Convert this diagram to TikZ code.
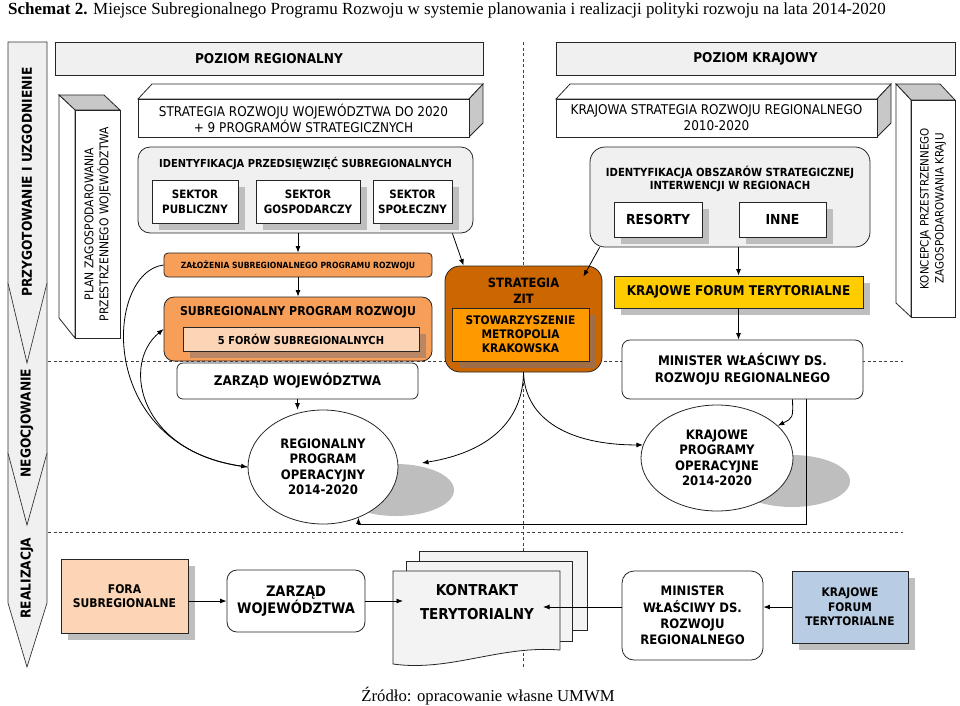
\documentclass[tikz,border=0pt]{standalone}
\usepackage{fontspec}
\setmainfont{DejaVu Sans Condensed}
\newfontfamily\titlefont{Liberation Serif}
\usepackage{tikz}
\usetikzlibrary{arrows.meta,positioning,calc,shapes.geometric,shadows}
\newcommand{\fsz}[2]{\fontsize{#1}{#2}\selectfont}
\definecolor{barfill}{RGB}{240,240,240}
\definecolor{panelgray}{RGB}{240,240,240}
\definecolor{docgray}{RGB}{243,243,243}
\definecolor{sidegray}{RGB}{200,200,200}
\definecolor{shadowgray}{RGB}{190,190,190}
\definecolor{lightorange}{RGB}{247,158,88}
\definecolor{peach}{RGB}{251,213,181}
\definecolor{subshadow}{RGB}{185,135,100}
\definecolor{zitbrown}{RGB}{204,102,0}
\definecolor{zitorange}{RGB}{255,153,0}
\definecolor{zitshadow}{RGB}{160,110,70}
\definecolor{forumyellow}{RGB}{255,204,0}
\definecolor{forumblue}{RGB}{184,204,228}

\begin{document}
\begin{tikzpicture}[x=1pt,y=-1pt,
    box/.style={draw=black!85, line width=0.8pt, inner sep=0pt, align=center},
    boxshadow/.style={drop shadow={shadow xshift=7pt, shadow yshift=-7pt, fill=#1, opacity=1}},
    boxshadow/.default=shadowgray,
    face/.style={draw=black!85, line width=0.8pt},
    arr/.style={-{Latex[length=6.5pt,width=5pt]}, line width=0.8pt},
    divider/.style={black!75, line width=0.6pt, dash pattern=on 3pt off 2.5pt}]
    \useasboundingbox (0,0) rectangle (960,705);

    % Title
    \node[anchor=base west, inner sep=0pt, font=\titlefont\fsz{17}{19}] (title) at (8,14)
        {\textbf{Schemat 2.} Miejsce Subregionalnego Programu Rozwoju w systemie planowania i realizacji polityki rozwoju na lata 2014-2020};

    % Stages bar on the left
    \filldraw[fill=barfill, draw=black!80, line width=0.7pt] (8,453) -- (47,453) -- (47,603) -- (27,667) -- (8,603) -- cycle;
    \filldraw[fill=barfill, draw=black!80, line width=0.7pt] (8,283) -- (47,283) -- (47,453) -- (27,525) -- (8,453) -- cycle;
    \filldraw[fill=barfill, draw=black!80, line width=0.7pt] (8,42) -- (47,42) -- (47,283) -- (27,363) -- (8,283) -- cycle;
    \node[rotate=90, font=\bfseries\fsz{13.6}{15}] (stageA) at (27,182) {PRZYGOTOWANIE I UZGODNIENIE};
    \node[rotate=90, font=\bfseries\fsz{13.6}{15}] (stageB) at (27,423) {NEGOCJOWANIE};
    \node[rotate=90, font=\bfseries\fsz{13.6}{15}] (stageC) at (27,578) {REALIZACJA};

    % Dividers
    \draw[divider] (48,361) -- (903,361);
    \draw[divider] (48,532) -- (903,532);
    \draw[divider] (523,42) -- (523,668);

    % Level headers
    \node[box, fill=panelgray, minimum width=428pt, minimum height=33pt, font=\bfseries\fsz{13.5}{15}] (regLevel) at (269,58.5) {POZIOM REGIONALNY};
    \node[box, fill=panelgray, minimum width=399pt, minimum height=33pt, font=\bfseries\fsz{13.5}{15}] (natLevel) at (755.5,58.5) {POZIOM KRAJOWY};

    % Spatial plan of the voivodeship
    \filldraw[face, fill=sidegray] (59,95) -- (104,95) -- (120,110) -- (75,110) -- cycle;
    \filldraw[face, fill=white] (59,95) -- (75,110) -- (75,338) -- (59,318) -- cycle;
    \node[box, fill=white, rotate=90, minimum width=228pt, minimum height=45pt, font=\fsz{12}{15}] (planWoj) at (97.5,224)
        {PLAN ZAGOSPODAROWANIA\\PRZESTRZENNEGO WOJEWÓDZTWA};

    % National spatial concept
    \filldraw[face, fill=sidegray] (896,84) -- (940,84) -- (955,100) -- (911,100) -- cycle;
    \filldraw[face, fill=white] (896,84) -- (911,100) -- (911,317) -- (896,303) -- cycle;
    \node[box, fill=white, rotate=90, minimum width=217pt, minimum height=44pt, font=\fsz{11.5}{15}] (konKraj) at (933,208.5)
        {KONCEPCJA PRZESTRZENNEGO\\ZAGOSPODAROWANIA KRAJU};

    % Regional strategy
    \filldraw[face, fill=white] (138,99) -- (152,84) -- (483,84) -- (469,99) -- cycle;
    \filldraw[face, fill=sidegray] (469,99) -- (483,84) -- (483,123) -- (469,137) -- cycle;
    \node[box, fill=white, minimum width=331pt, minimum height=38pt, font=\fsz{13.4}{16}] (regStrat) at (303.5,118)
        {STRATEGIA ROZWOJU WOJEWÓDZTWA DO 2020\\+ 9 PROGRAMÓW STRATEGICZNYCH};

    % National strategy
    \filldraw[face, fill=white] (556,99) -- (570,84) -- (891,84) -- (877,99) -- cycle;
    \filldraw[face, fill=sidegray] (877,99) -- (891,84) -- (891,123) -- (877,137) -- cycle;
    \node[box, fill=white, minimum width=321pt, minimum height=38pt, font=\fsz{13.4}{16}] (natStrat) at (716.5,118)
        {KRAJOWA STRATEGIA ROZWOJU REGIONALNEGO\\2010-2020};

    % Subregional projects
    \node[box, fill=panelgray, rounded corners=12pt, minimum width=335pt, minimum height=86pt] (regIdent) at (305.5,190) {};
    \node[font=\bfseries\fsz{11}{13}] (regIdentTitle) at (305.5,163) {IDENTYFIKACJA PRZEDSIĘWZIĘĆ SUBREGIONALNYCH};
    \node[box, fill=white, boxshadow, minimum width=86pt, minimum height=43pt, font=\bfseries\fsz{11.5}{15}] (secPub) at (195,201.5) {SEKTOR\\PUBLICZNY};
    \node[box, fill=white, boxshadow, minimum width=104pt, minimum height=43pt, font=\bfseries\fsz{11.5}{15}] (secGos) at (308,201.5) {SEKTOR\\GOSPODARCZY};
    \node[box, fill=white, boxshadow, minimum width=79pt, minimum height=43pt, font=\bfseries\fsz{11.5}{15}] (secSpo) at (412.5,201.5) {SEKTOR\\SPOŁECZNY};

    % Subregional programme
    \node[box, fill=lightorange, rounded corners=4pt, minimum width=268pt, minimum height=24pt, font=\bfseries\fsz{8.5}{10}] (zal) at (298,265)
        {ZAŁOŻENIA SUBREGIONALNEGO PROGRAMU ROZWOJU};
    \node[box, fill=lightorange, rounded corners=10pt, minimum width=268pt, minimum height=64pt] (sub) at (298,329) {};
    \node[font=\bfseries\fsz{12.2}{14}] (subTitle) at (298,312) {SUBREGIONALNY PROGRAM ROZWOJU};
    \node[box, fill=peach, boxshadow=subshadow, minimum width=236pt, minimum height=24pt, font=\bfseries\fsz{11}{12}] (fora5) at (301,339)
        {5 FORÓW SUBREGIONALNYCH};
    \node[box, fill=white, rounded corners=6pt, minimum width=241pt, minimum height=36pt, font=\bfseries\fsz{13.3}{16}] (zarzadTop) at (297.5,381)
        {ZARZĄD WOJEWÓDZTWA};

    % ZIT strategy
    \node[box, fill=zitbrown, rounded corners=15pt, minimum width=157pt, minimum height=106pt] (zit) at (523.5,319) {};
    \node[align=center, font=\bfseries\fsz{12.8}{16}] (zitTitle) at (523.5,291) {STRATEGIA\\ZIT};
    \node[box, fill=zitorange, boxshadow=zitshadow, minimum width=137pt, minimum height=53pt, font=\bfseries\fsz{11.8}{14}] (metro) at (520.5,334.5)
        {STOWARZYSZENIE\\METROPOLIA\\KRAKOWSKA};

    % Strategic intervention areas
    \node[box, fill=panelgray, rounded corners=15pt, minimum width=280pt, minimum height=100pt] (natIdent) at (730,197) {};
    \node[align=center, font=\bfseries\fsz{11.2}{13}] (natIdentTitle) at (730,178.5)
        {IDENTYFIKACJA OBSZARÓW STRATEGICZNEJ\\INTERWENCJI W REGIONACH};
    \node[box, fill=white, boxshadow, minimum width=88pt, minimum height=35pt, font=\bfseries\fsz{13.8}{15}] (resorty) at (658,219.5) {RESORTY};
    \node[box, fill=white, boxshadow, minimum width=87pt, minimum height=35pt, font=\bfseries\fsz{13.8}{15}] (inne) at (782.5,219.5) {INNE};

    \node[box, fill=forumyellow, boxshadow, minimum width=249pt, minimum height=32pt, font=\bfseries\fsz{13.4}{15}] (forumNat) at (738.5,292)
        {KRAJOWE FORUM TERYTORIALNE};
    \node[box, fill=white, rounded corners=8pt, minimum width=241pt, minimum height=59pt, font=\bfseries\fsz{13.2}{17}] (ministerTop) at (742.5,369.5)
        {MINISTER WŁAŚCIWY DS.\\ROZWOJU REGIONALNEGO};

    % Operational programmes
    \fill[shadowgray] (396,490) ellipse [x radius=58, y radius=26];
    \node[box, ellipse, fill=white, minimum width=150pt, minimum height=114pt, font=\bfseries\fsz{13}{15.5}] (rpo) at (323,467)
        {REGIONALNY\\PROGRAM\\OPERACYJNY\\2014-2020};
    \fill[shadowgray] (792,481) ellipse [x radius=58, y radius=26];
    \node[box, ellipse, fill=white, minimum width=152pt, minimum height=106pt, font=\bfseries\fsz{13}{15.5}] (kpo) at (717,458)
        {KRAJOWE\\PROGRAMY\\OPERACYJNE\\2014-2020};
    \coordinate (rpoIn) at (422,463);

    % Regional connectors
    \draw[arr] (regIdent.south -| zal.north) -- (zal.north);
    \draw[arr] (secSpo.east |- regIdent.south) -- ($(zit.north west)+(19,0)$);
    \draw[arr] (zal.south) -- (sub.north);
    \draw[arr] (zarzadTop.south) -- (zarzadTop.south |- rpo.north);
    \draw[arr] (zal.west) .. controls (105,272) and (95,445) .. (rpo.west);
    \draw[arr] (rpo.west) .. controls (140,455) and (120,365) .. (sub.west);
    \draw[arr] (zit.south) .. controls (523,420) and (490,452) .. (rpoIn);
    \draw[arr] (zit.south) .. controls (525,420) and (570,445) .. (kpo.170);

    % National connectors
    \draw[arr] ($(natIdent.south west)+(10,0)$) -- ($(zit.north east)+(-19,11)$);
    \draw[arr] (natIdent.south -| forumNat.north) -- (forumNat.north);
    \draw[arr] (forumNat.south) -- (forumNat.south |- ministerTop.north);
    \draw[arr] ($(ministerTop.south)+(50,0)$) .. controls (793,418) .. (kpo.28);
    \draw[arr] ($(ministerTop.south)+(64,0)$) -- ++(0,125) -| (rpo.-55);

    % Implementation row
    \node[box, fill=peach, boxshadow, minimum width=127pt, minimum height=74pt, font=\bfseries\fsz{12}{14}] (foraSub) at (124.5,596)
        {FORA\\SUBREGIONALNE};
    \node[box, fill=white, rounded corners=10pt, minimum width=138pt, minimum height=62pt, font=\bfseries\fsz{14.5}{16}] (zarzadBot) at (296,601)
        {ZARZĄD\\WOJEWÓDZTWA};

    % Territorial contract as a stack of pages
    \filldraw[face, fill=docgray] (419,551) rectangle (587,630);
    \filldraw[face, fill=docgray] (406,561) rectangle (572,641);
    \filldraw[face, fill=docgray] (393,571) -- (560,571) -- (560,650) .. controls (500,645) and (450,672) .. (393,664) -- cycle;
    \node[align=center, font=\bfseries\fsz{15}{24}] (kontrakt) at (477,602) {KONTRAKT\\TERYTORIALNY};
    \coordinate (kontraktIn) at (403,601);
    \coordinate (kontraktOut) at (543,607);

    \node[box, fill=white, rounded corners=12pt, minimum width=141pt, minimum height=89pt, font=\bfseries\fsz{13}{16.3}] (ministerBot) at (692.5,615.5)
        {MINISTER\\WŁAŚCIWY DS.\\ROZWOJU\\REGIONALNEGO};
    \node[box, fill=forumblue, boxshadow, minimum width=116pt, minimum height=72pt, font=\bfseries\fsz{11.8}{14.5}] (forumBot) at (850,607)
        {KRAJOWE\\FORUM\\TERYTORIALNE};

    \draw[arr] (foraSub.east |- zarzadBot.west) -- (zarzadBot.west);
    \draw[arr] (zarzadBot.east) -- (kontraktIn);
    \draw[arr] (ministerBot.west |- kontraktOut) -- (kontraktOut);
    \draw[arr] (forumBot.west) -- (forumBot.west -| ministerBot.east);

    % Source
    \node[anchor=base, inner sep=0pt, font=\titlefont\fsz{16.7}{18}] (source) at (488,701) {Źródło: opracowanie własne UMWM};
\end{tikzpicture}
\end{document}
